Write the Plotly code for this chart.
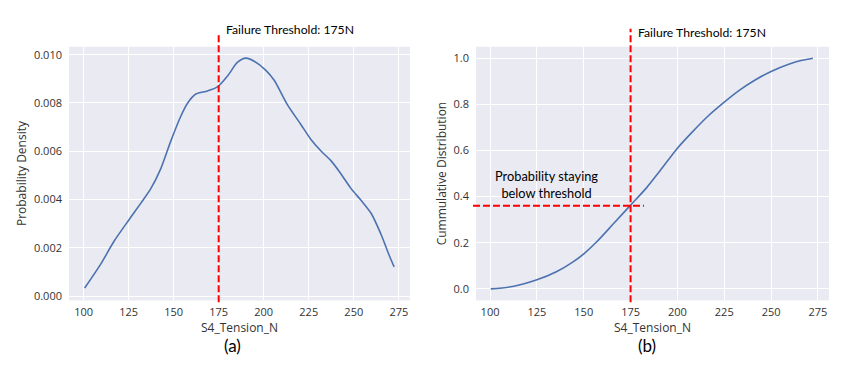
import plotly.graph_objects as go

# ---- data ----
pdf_x = [100.6, 109.5, 116.9, 125.2, 131.7, 137.3, 142.8, 148.4, 153.9, 157.7, 162.3, 168.8,
         174.3, 180.1, 185.5, 190.1, 194.7, 201.2, 205.8, 213.2, 220.7, 226.2, 231.8, 237.3,
         242.9, 248.5, 254.0, 259.6, 265.2, 269.8, 272.4]
pdf_y = [0.00033, 0.00132, 0.00227, 0.00316, 0.00384, 0.00445, 0.00527, 0.00642, 0.00744,
         0.00799, 0.00837, 0.00850, 0.00867, 0.00914, 0.00969, 0.00986, 0.00973, 0.00935,
         0.00894, 0.00792, 0.00710, 0.00649, 0.00601, 0.00561, 0.00506, 0.00445, 0.00397,
         0.00343, 0.00254, 0.00166, 0.00121]

cdf_x = [100.4, 112.1, 125.0, 135.4, 144.3, 150.2, 156.8, 165.7, 175.0, 183.6, 191.0,
         200.0, 208.0, 216.8, 225.0, 232.8, 241.7, 250.0, 259.4, 266.5, 272.3]
cdf_y = [0.000, 0.010, 0.039, 0.074, 0.117, 0.153, 0.203, 0.281, 0.363, 0.439, 0.515,
         0.610, 0.681, 0.753, 0.810, 0.860, 0.907, 0.943, 0.974, 0.991, 1.000]

threshold = 175
prob_below = 0.36
x_ticks = [100, 125, 150, 175, 200, 225, 250, 275]
pdf_ticks = [0.000, 0.002, 0.004, 0.006, 0.008, 0.010]
cdf_ticks = [0.0, 0.2, 0.4, 0.6, 0.8, 1.0]

W, H = 848, 370
LINE = "#4C72B0"
BG = "#EAEAF2"
RED = "#FF0000"
TXT = "#333333"


def px(x):
    return x / W


def py(y):
    return 1 - y / H


fig = go.Figure()
fig.add_trace(go.Scatter(x=pdf_x, y=pdf_y, mode="lines",
                         line=dict(color=LINE, width=1.6, shape="spline", smoothing=0.8),
                         xaxis="x", yaxis="y", showlegend=False, hoverinfo="skip"))
fig.add_trace(go.Scatter(x=cdf_x, y=cdf_y, mode="lines",
                         line=dict(color=LINE, width=1.6, shape="spline", smoothing=0.8),
                         xaxis="x2", yaxis="y2", showlegend=False, hoverinfo="skip"))

tickfont = dict(family="Open Sans", size=11, color=TXT)
titlefont = dict(family="Open Sans", size=12, color=TXT)
common_x = dict(tickvals=x_ticks, showgrid=True, gridcolor="white", gridwidth=1,
                zeroline=False, showline=False, ticks="", tickfont=tickfont, title_font=titlefont,
                title_standoff=1, ticklabelstandoff=4)
common_y = dict(showgrid=True, gridcolor="white", zeroline=False, ticks="", tickfont=tickfont,
                title_font=titlefont, title_standoff=4, ticklabelstandoff=6)

fig.update_layout(
    width=W, height=H, margin=dict(l=0, r=0, t=0, b=0),
    paper_bgcolor="white", plot_bgcolor=BG,
    xaxis=dict(domain=[px(69), px(410)], anchor="y", range=[91.9, 281.2], title_text="S4_Tension_N",
               **common_x),
    yaxis=dict(domain=[py(302), py(47)], anchor="x", range=[-0.00018, 0.01033], tickvals=pdf_ticks,
               tickformat=".3f", title_text="Probability Density", **common_y),
    xaxis2=dict(domain=[px(476), px(829)], anchor="y2", range=[92.5, 280.9], title_text="S4_Tension_N",
                **common_x),
    yaxis2=dict(domain=[py(302), py(47)], anchor="x2", range=[-0.05, 1.05], tickvals=cdf_ticks,
                tickformat=".1f", title_text="Cummulative Distribution", **common_y),
)

dash = "7px,3px"
fig.add_shape(type="line", xref="x", yref="paper", x0=threshold, x1=threshold, y0=py(304), y1=py(33),
              line=dict(color=RED, width=2, dash=dash))
fig.add_shape(type="line", xref="x2", yref="paper", x0=threshold, x1=threshold, y0=py(304), y1=py(29),
              line=dict(color=RED, width=2, dash=dash))
fig.add_shape(type="line", xref="paper", yref="y2", x0=px(473), x1=px(644), y0=prob_below, y1=prob_below,
              line=dict(color=RED, width=2, dash=dash))

afont = dict(family="Lato", size=12.2, color="black")
fig.add_annotation(x=px(224), y=py(30), xref="paper", yref="paper", text="Failure Threshold: 175N",
                   showarrow=False, xanchor="left", yanchor="middle", font=afont)
fig.add_annotation(x=px(636), y=py(33), xref="paper", yref="paper", text="Failure Threshold: 175N",
                   showarrow=False, xanchor="left", yanchor="middle", font=afont)
fig.add_annotation(x=px(546), y=py(186), xref="paper", yref="paper",
                   text="Probability staying<br>below threshold", showarrow=False, xanchor="center",
                   yanchor="middle", align="center", font=dict(family="Lato", size=12.8, color="black"))
cfont = dict(family="Lato", size=17, color="black")
fig.add_annotation(x=px(232), y=py(347), xref="paper", yref="paper", text="(a)", showarrow=False,
                   xanchor="center", yanchor="middle", font=cfont)
fig.add_annotation(x=px(647), y=py(347), xref="paper", yref="paper", text="(b)", showarrow=False,
                   xanchor="center", yanchor="middle", font=cfont)

fig.write_html("out.html", post_script="document.body.style.margin='0';",
               config={"displayModeBar": False})
